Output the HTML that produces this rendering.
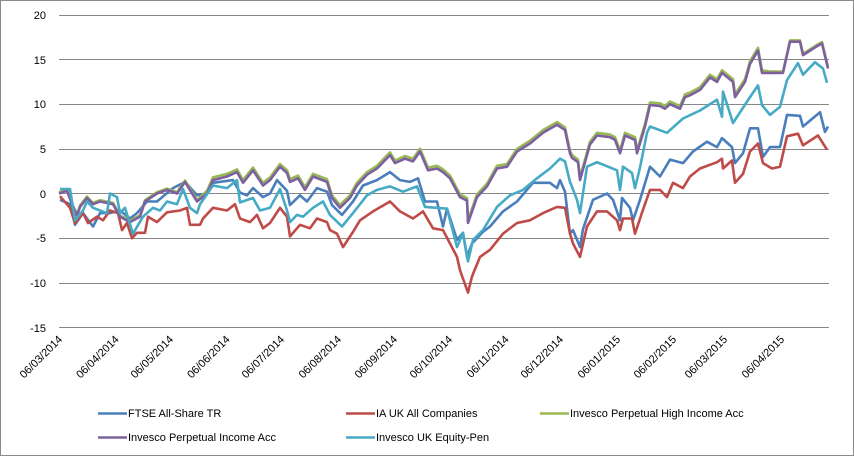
<!DOCTYPE html>
<html><head><meta charset="utf-8"><style>
html,body{margin:0;padding:0;background:#fff;}
svg{display:block;font-family:"Liberation Sans",sans-serif;}
</style></head><body>
<svg id="c" width="854" height="456" viewBox="0 0 854 456" xmlns="http://www.w3.org/2000/svg">
<rect x="0.5" y="0.5" width="853" height="455" fill="#fff" stroke="#8a8a8a"/>
<g stroke="#878787" stroke-width="1">
<line x1="59" x2="829" y1="15.5" y2="15.5"/>
<line x1="59" x2="829" y1="59.5" y2="59.5"/>
<line x1="59" x2="829" y1="104.5" y2="104.5"/>
<line x1="59" x2="829" y1="149.5" y2="149.5"/>
<line x1="59" x2="829" y1="193.5" y2="193.5"/>
<line x1="59" x2="829" y1="238.5" y2="238.5"/>
<line x1="59" x2="829" y1="283.5" y2="283.5"/>
<line x1="59" x2="829" y1="327.5" y2="327.5"/>
</g>
<g font-size="11" fill="#000" text-anchor="end">
<text x="46" y="19">20</text><text x="46" y="64">15</text><text x="46" y="108">10</text>
<text x="46" y="153">5</text><text x="46" y="198">0</text><text x="46" y="242">-5</text>
<text x="46" y="287">-10</text><text x="46" y="332">-15</text>
</g>
<g id="xl" font-size="11" fill="#000" text-anchor="end"></g>
<g id="series" fill="none" stroke-width="2.6" stroke-linejoin="round"></g>
<g font-size="11" fill="#000">
<line x1="98" x2="127" y1="413.5" y2="413.5" stroke="#4a7ebb" stroke-width="2.6"/>
<text x="128" y="417">FTSE All-Share TR</text>
<line x1="346" x2="375" y1="413.5" y2="413.5" stroke="#be4b48" stroke-width="2.6"/>
<text x="376" y="417">IA UK All Companies</text>
<line x1="540" x2="569" y1="413.5" y2="413.5" stroke="#98b954" stroke-width="2.6"/>
<text x="570" y="417">Invesco Perpetual High Income Acc</text>
<line x1="98" x2="127" y1="437.5" y2="437.5" stroke="#7d60a0" stroke-width="2.6"/>
<text x="128" y="441">Invesco Perpetual Income Acc</text>
<line x1="346" x2="375" y1="437.5" y2="437.5" stroke="#46aac5" stroke-width="2.6"/>
<text x="376" y="441">Invesco UK Equity-Pen</text>
</g>
</svg>
<script>
var NS="http://www.w3.org/2000/svg";
var labels=[["06/03/2014",63],["06/04/2014",119.5],["06/05/2014",174],["06/06/2014",230.5],["06/07/2014",285],["06/08/2014",342],["06/09/2014",398],["06/10/2014",453],["06/11/2014",509.5],["06/12/2014",564],["06/01/2015",621],["06/02/2015",677],["06/03/2015",728],["06/04/2015",785]];
var xl=document.getElementById("xl");
labels.forEach(function(l){var t=document.createElementNS(NS,"text");t.setAttribute("x",l[1]);t.setAttribute("y",340);t.setAttribute("transform","rotate(-45 "+l[1]+" 340)");t.textContent=l[0];xl.appendChild(t);});
function Y(v){return 193.5-v*8.93;}
var purple=[59,0,67,0.3,73,-1.5,77,-2.5,80,-1.5,87,-0.5,93,-1.2,100,-0.9,113,-1.2,120,-2.6,130,-3.2,140,-2.6,145,-0.9,157,0,167,0.4,177,0,185,1.3,197,-0.9,207,0,213,1.5,227,1.9,237,2.4,243,1.2,253,2.6,263,0.9,270,1.5,280,3,287,2.3,290,1.3,298,1.7,305,0.4,313,1.9,327,1.3,332,-0.5,340,-1.6,350,-0.5,357,0.9,367,2.1,377,2.8,390,4.3,395,3.4,405,3.9,413,3.6,420,4.7,428,2.6,437,2.8,443,2.4,450,1.7,460,-0.4,467,-0.8,468,-3.3,477,-0.4,487,0.8,497,2.8,507,3,517,4.7,530,5.6,543,6.8,557,7.7,565,7.1,570,4.5,572,4,578,3.5,580,1.5,585,3.5,590,5.5,597,6.5,610,6.3,615,6,620,4.5,625,6.5,635,6,637,4.5,645,7.5,650,9.9,660,9.8,665,9.5,670,10,680,9.5,685,10.8,690,11,700,11.6,710,13,717,12.5,722,13.5,733,12.5,735,10.8,745,12.5,750,14.5,758,16,762,13.5,770,13.5,783,13.5,790,17,800,17,803,15.5,810,16,817,16.5,822,16.8,828,14];
var green=[];for(var i=0;i<purple.length;i+=2){var x=purple[i];green.push(x,purple[i+1]+(x>200&&x<770?0.3:0.15));}
var blue=[60,-0.7,70,-1.2,75,-3.5,83,-2.2,93,-3.7,100,-2.2,110,-2.2,120,-1.9,130,-2.8,137,-2.2,147,-0.9,157,-0.9,173,0.6,185,1.3,197,-0.2,207,0,213,1.2,233,1.5,240,0.1,247,-0.2,253,0.6,263,-0.4,270,0,277,1.5,287,0.3,290,-1.3,300,-0.2,307,-0.9,317,0.6,327,0.2,332,-1.3,342,-2.4,353,-0.9,363,0.9,377,1.5,390,2.4,400,1.5,410,1.3,418,1.7,425,-0.9,437,-0.9,443,-3.7,447,-1.7,457,-5.2,463,-4.4,467,-7.1,472,-5.6,483,-4.3,490,-3.7,503,-2,517,-0.9,533,1.2,550,1.2,557,0.6,560,1.5,565,0.2,570,-4.5,573,-4.1,580,-6,583,-4,593,-0.7,607,0,613,-0.7,620,-3,622,-0.5,630,-1.6,633,-3,640,-0.7,650,3,660,1.9,670,3.8,683,3.4,693,4.7,707,5.8,717,5.2,722,6.2,732,5.2,735,3.4,743,4.5,750,7.3,758,7.3,763,4.1,770,5.2,780,5.2,787,8.8,800,8.7,803,7.5,820,9.1,825,6.9,828,7.5];
var red=[60,-0.3,70,-1.6,75,-3.3,83,-2.2,88,-3.3,97,-2.6,103,-3,110,-1.9,118,-2.2,122,-4.1,127,-3.3,132,-5,137,-4.4,145,-4.4,148,-2.6,157,-3.2,167,-2.1,180,-1.9,187,-1.6,190,-3.5,200,-3.5,203,-2.8,213,-1.6,227,-1.9,235,-1.2,240,-2.8,250,-3.2,257,-2.4,263,-3.9,270,-3.3,280,-1.6,287,-2.6,290,-4.8,300,-3.5,310,-3.9,317,-2.8,327,-3.2,330,-4.1,337,-4.5,343,-6,353,-4.3,360,-3,373,-2,390,-0.9,400,-2,413,-2.8,423,-2,433,-3.9,443,-4.1,450,-5.6,457,-7.1,460,-8.6,468,-11.1,472,-9.3,480,-7.1,490,-6.3,503,-4.5,517,-3.3,530,-3,543,-2.2,557,-1.5,565,-1.6,570,-4.5,573,-5.6,580,-7.1,587,-3.7,597,-2,607,-2,617,-3,620,-4.1,623,-2.8,632,-2.8,635,-4.5,643,-1.8,650,0.4,660,0.4,667,-0.4,673,1.2,683,0.6,690,1.9,700,2.8,717,3.5,722,3.9,723,2.8,732,3.7,735,1.2,743,2.2,750,4.7,758,5.6,763,3.4,772,2.8,780,3,787,6.4,798,6.7,803,5.4,818,6.5,827,4.9];
var cyan=[60,0.5,70,0.5,75,-3,83,-1.9,87,-0.9,93,-1.6,100,-1.9,107,-2.2,110,0,117,-0.4,120,-2.2,125,-1.6,133,-4.5,143,-2.6,153,-1.6,160,-1.9,167,-0.9,177,-1.2,183,0.5,190,-1.6,197,-2.2,200,-1.2,213,0.9,227,0.6,237,1.5,240,-1,253,-0.5,260,-1.9,270,-1.6,280,0.5,287,-1.9,290,-3.2,297,-2.4,303,-2.6,313,-1.6,323,-0.9,330,-2.4,342,-3.7,353,-2.2,367,-0.2,377,0.4,390,0.8,403,0.2,417,0.8,425,-1.5,437,-1.6,447,-1.7,457,-6,463,-4.4,468,-7.6,473,-5.2,483,-4.1,497,-1.5,510,-0.2,523,0.4,537,1.7,550,2.8,560,3.9,565,3.6,570,1.3,577,-0.7,580,-2.2,587,3,597,3.5,617,2.6,620,0.4,623,3,632,2.3,635,0.6,640,2.9,647,6.8,650,7.5,667,6.8,683,8.4,700,9.3,717,10.5,722,8.6,723,11.4,733,7.9,750,10.8,758,12.1,762,9.9,770,8.8,780,9.7,787,12.7,798,14.6,803,13.3,815,14.7,823,14,827,12.4];
var g=document.getElementById("series");
[[blue,"#4a7ebb"],[red,"#be4b48"],[green,"#98b954"],[purple,"#7d60a0"],[cyan,"#46aac5"]].forEach(function(s){var a=s[0],p=[];for(var i=0;i<a.length;i+=2)p.push(a[i]+","+Y(a[i+1]).toFixed(1));var pl=document.createElementNS(NS,"polyline");pl.setAttribute("points",p.join(" "));pl.setAttribute("stroke",s[1]);g.appendChild(pl);});
</script>
</body></html>
